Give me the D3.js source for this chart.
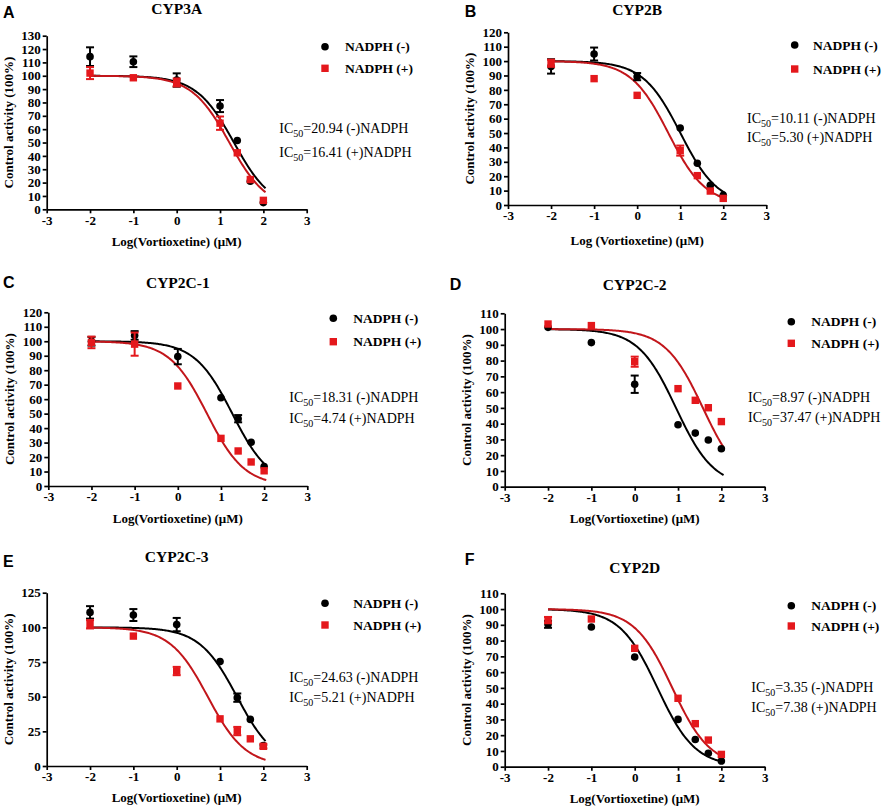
<!DOCTYPE html>
<html>
<head>
<meta charset="utf-8">
<script src="https://cdn.jsdelivr.net/npm/d3@7"></script>
<style>
  body { margin: 0; background: #fff; }
  svg { display: block; }
</style>
</head>
<body>
<svg id="chart" width="886" height="808"></svg>
<script>
// ---- data ----
const logConc = [-2, -1, 0, 1, 1.398, 1.699, 2];
const xTicks = [-3, -2, -1, 0, 1, 2, 3];
const panelLetters = ["A", "B", "C", "D", "E", "F"];
const panelTitles = ["CYP3A", "CYP2B", "CYP2C-1", "CYP2C-2", "CYP2C-3", "CYP2D"];
const xAxisLabels = [
  "Log(Vortioxetine) (\u03bcM)", "Log (Vortioxetine) (\u03bcM)", "Log(Vortioxetine) (\u03bcM)",
  "Log(Vortioxetine) (\u03bcM)", "Log(Vortioxetine) (\u03bcM)", "Log(Vortioxetine) (\u03bcM)"
];
const seriesNames = ["NADPH (-)", "NADPH (+)"];

const yTicksA = [0, 10, 20, 30, 40, 50, 60, 70, 80, 90, 100, 110, 120, 130];
const yTicksB = [0, 10, 20, 30, 40, 50, 60, 70, 80, 90, 100, 110, 120];
const yTicksC = [0, 10, 20, 30, 40, 50, 60, 70, 80, 90, 100, 110, 120];
const yTicksD = [0, 10, 20, 30, 40, 50, 60, 70, 80, 90, 100, 110];
const yTicksE = [0, 25, 50, 75, 100, 125];
const yTicksF = [0, 10, 20, 30, 40, 50, 60, 70, 80, 90, 100, 110];

// IC50 (uM) per panel
const ic50Minus = [20.94, 10.11, 18.31, 8.97, 24.63, 3.35];
const ic50Plus = [16.41, 5.30, 4.74, 37.47, 5.21, 7.38];

// activity (%) and error, NADPH (-) and NADPH (+)
const cyp3aMinus = [114.3, 110.5, 96.8, 77.3, 51.5, 21.0, 5.0];
const cyp3aMinusErr = [7, 4, 5, 4.5, 1, 1, 0.5];
const cyp3aPlus = [102.0, 98.5, 95.0, 64.5, 42.3, 22.3, 6.7];
const cyp3aPlusErr = [4.5, 1, 3, 5, 1, 1, 0.5];

const cyp2bMinus = [96.3, 104.9, 89.2, 53.5, 29.0, 13.7, 6.7];
const cyp2bMinusErr = [5, 4.5, 2.5, 1, 1, 1, 0.5];
const cyp2bPlus = [98.5, 87.8, 76.2, 37.8, 20.4, 9.7, 4.6];
const cyp2bPlusErr = [2.5, 0.5, 0.5, 3.5, 1, 1, 0.5];

const cyp2c1Minus = [100.0, 104.0, 89.4, 61.0, 46.5, 30.2, 13.5];
const cyp2c1MinusErr = [3, 3, 5.3, 1, 2.5, 1, 1];
const cyp2c1Plus = [99.2, 98.0, 69.1, 32.9, 24.2, 16.6, 10.5];
const cyp2c1PlusErr = [4, 8, 0.5, 1, 1, 1, 1];

const cyp2c2Minus = [101.1, 91.4, 65.0, 39.3, 34.0, 29.6, 24.1];
const cyp2c2MinusErr = [0.5, 0.5, 5.5, 0.5, 0.5, 0.5, 0.5];
const cyp2c2Plus = [103.2, 102.2, 79.3, 62.2, 54.8, 50.1, 41.3];
const cyp2c2PlusErr = [1, 1, 3.2, 0.5, 1, 1, 0.5];

const cyp2c3Minus = [110.8, 108.9, 102.0, 75.3, 49.3, 33.6, 14.7];
const cyp2c3MinusErr = [4.5, 4.3, 4.8, 1, 3, 1, 1];
const cyp2c3Plus = [102.2, 93.7, 68.5, 34.0, 25.2, 19.6, 14.2];
const cyp2c3PlusErr = [3, 1, 3, 1, 3, 1, 1.5];

const cyp2dMinus = [90.3, 88.6, 69.6, 30.0, 17.3, 8.5, 3.6];
const cyp2dMinusErr = [2.2, 0.5, 0.5, 0.5, 0.5, 0.5, 0.5];
const cyp2dPlus = [93.0, 93.7, 75.1, 43.4, 27.3, 16.9, 7.8];
const cyp2dPlusErr = [2, 0.5, 0.5, 0.5, 0.5, 0.5, 0.5];

const yTickSets = [yTicksA, yTicksB, yTicksC, yTicksD, yTicksE, yTicksF];
const minusVals = [cyp3aMinus, cyp2bMinus, cyp2c1Minus, cyp2c2Minus, cyp2c3Minus, cyp2dMinus];
const minusErrs = [cyp3aMinusErr, cyp2bMinusErr, cyp2c1MinusErr, cyp2c2MinusErr, cyp2c3MinusErr, cyp2dMinusErr];
const plusVals = [cyp3aPlus, cyp2bPlus, cyp2c1Plus, cyp2c2Plus, cyp2c3Plus, cyp2dPlus];
const plusErrs = [cyp3aPlusErr, cyp2bPlusErr, cyp2c1PlusErr, cyp2c2PlusErr, cyp2c3PlusErr, cyp2dPlusErr];

// ---- layout (pixel boxes of each panel) ----
const layout = [
  { x0: 46.7, x1: 306.7, y0: 35.7, y1: 209.3, tb: 13.5, lx: 3, lb: 18.3,
    leg: [325, 46.7, 68.3, 345], ic: [279.3, 132.7, 156.7], xlb: 246 },
  { x0: 508, x1: 766.3, y0: 32.3, y1: 205, tb: 15, lx: 464.7, lb: 16.7,
    leg: [794.7, 45, 69, 813], ic: [747, 122.7, 141.7], xlb: 245 },
  { x0: 48.3, x1: 307.3, y0: 312.3, y1: 486, tb: 288, lx: 3, lb: 288.3,
    leg: [333.3, 318.3, 341.7, 353.3], ic: [289.3, 401.7, 422.7], xlb: 523 },
  { x0: 504.7, x1: 764.7, y0: 313.3, y1: 486.7, tb: 290, lx: 449.7, lb: 290,
    leg: [791.3, 321.7, 343.3, 811.3], ic: [748, 401.7, 421.7], xlb: 523 },
  { x0: 46.7, x1: 306.7, y0: 592.7, y1: 766, tb: 562, lx: 3, lb: 566.7,
    leg: [325, 603.3, 625, 353.3], ic: [289.3, 681.7, 701.7], xlb: 802 },
  { x0: 504.7, x1: 764.7, y0: 593.3, y1: 766.7, tb: 573, lx: 464.7, lb: 565,
    leg: [791.3, 605.7, 626, 811.3], ic: [751.3, 691.7, 711.7], xlb: 803 }
];

const SERIF = '"Liberation Serif", "Times New Roman", serif';
const SANS = '"Liberation Sans", Arial, sans-serif';
const RED = "#e4181c";
const RED_LINE = "#c2161b";

const svg = d3.select("#chart");

// sigmoidal inhibition fit (top 100, bottom 0, Hill slope -1)
const hill = (lx, ic) => 100 / (1 + Math.pow(10, lx - Math.log10(ic)));
const fitX = d3.range(-2, 2.051, 0.025);

panelTitles.forEach((title, i) => {
  const L = layout[i];
  const yT = yTickSets[i];
  const x = d3.scaleLinear().domain([-3, 3]).range([L.x0, L.x1]);
  const y = d3.scaleLinear().domain([0, d3.max(yT)]).range([L.y1, L.y0]);
  const g = svg.append("g");

  // axes
  const xAx = g.append("g")
    .attr("transform", `translate(0,${L.y1})`)
    .call(d3.axisBottom(x).tickValues(xTicks).tickFormat(d => String(d))
      .tickSize(4).tickSizeOuter(0).tickPadding(2));
  const yAx = g.append("g")
    .attr("transform", `translate(${L.x0},0)`)
    .call(d3.axisLeft(y).tickValues(yT).tickFormat(d => String(d))
      .tickSize(4).tickSizeOuter(0).tickPadding(2));
  [xAx, yAx].forEach(ax => {
    ax.selectAll("path, line").attr("stroke", "#000").attr("stroke-width", 1.7);
    ax.selectAll("text")
      .attr("fill", "#000")
      .style("font-family", SERIF)
      .style("font-weight", "bold")
      .style("font-size", "13px");
  });

  // fitted curves
  const line = d3.line().x(d => x(d[0])).y(d => y(d[1]));
  const curves = [[ic50Minus[i], "#000"], [ic50Plus[i], RED_LINE]];
  curves.forEach(([ic, col]) => {
    g.append("path")
      .datum(fitX.map(v => [v, hill(v, ic)]))
      .attr("d", line)
      .attr("fill", "none")
      .attr("stroke", col)
      .attr("stroke-width", 2);
  });

  // points with error bars
  const groups = [
    { vals: minusVals[i], errs: minusErrs[i], col: "#000", shape: "circle" },
    { vals: plusVals[i], errs: plusErrs[i], col: RED, shape: "square" }
  ];
  groups.forEach(s => {
    const pts = logConc.map((c, k) => ({ c, v: s.vals[k], e: s.errs[k] }));
    const eb = g.append("g").attr("stroke", s.col).attr("stroke-width", 2);
    pts.filter(d => d.e >= 1.5).forEach(d => {
      eb.append("line").attr("x1", x(d.c)).attr("x2", x(d.c))
        .attr("y1", y(d.v - d.e)).attr("y2", y(d.v + d.e));
      [d.v - d.e, d.v + d.e].forEach(v => {
        eb.append("line").attr("x1", x(d.c) - 4).attr("x2", x(d.c) + 4)
          .attr("y1", y(v)).attr("y2", y(v));
      });
    });
    if (s.shape === "circle") {
      g.selectAll(null).data(pts).join("circle")
        .attr("cx", d => x(d.c)).attr("cy", d => y(d.v))
        .attr("r", 3.8).attr("fill", s.col);
    } else {
      g.selectAll(null).data(pts).join("rect")
        .attr("x", d => x(d.c) - 3.7).attr("y", d => y(d.v) - 3.7)
        .attr("width", 7.4).attr("height", 7.4).attr("fill", s.col);
    }
  });

  // titles and axis labels
  g.append("text")
    .attr("x", (L.x0 + L.x1) / 2).attr("y", L.tb)
    .attr("text-anchor", "middle")
    .style("font-family", SERIF).style("font-weight", "bold").style("font-size", "15.5px")
    .text(title);
  g.append("text")
    .attr("x", L.lx).attr("y", L.lb)
    .style("font-family", SANS).style("font-weight", "bold").style("font-size", "16px")
    .text(panelLetters[i]);
  g.append("text")
    .attr("x", (L.x0 + L.x1) / 2).attr("y", L.xlb)
    .attr("text-anchor", "middle")
    .style("font-family", SERIF).style("font-weight", "bold").style("font-size", "13px")
    .text(xAxisLabels[i]);
  g.append("text")
    .attr("transform", `translate(${L.x0 - 34},${(L.y0 + L.y1) / 2}) rotate(-90)`)
    .attr("text-anchor", "middle")
    .style("font-family", SERIF).style("font-weight", "bold").style("font-size", "13px")
    .text("Control activity (100%)");

  // legend
  const [cx, cy1, cy2, tx] = L.leg;
  g.append("circle").attr("cx", cx).attr("cy", cy1).attr("r", 3.8).attr("fill", "#000");
  g.append("rect").attr("x", cx - 3.7).attr("y", cy2 - 3.7)
    .attr("width", 7.4).attr("height", 7.4).attr("fill", RED);
  [[cy1, seriesNames[0]], [cy2, seriesNames[1]]].forEach(([cy, name]) => {
    g.append("text").attr("x", tx).attr("y", cy + 4.5)
      .style("font-family", SERIF).style("font-weight", "bold").style("font-size", "13.5px")
      .text(name);
  });

  // IC50 annotation
  const [ix, b1, b2] = L.ic;
  [[b1, ic50Minus[i], "(-)NADPH"], [b2, ic50Plus[i], "(+)NADPH"]].forEach(([b, v, tag]) => {
    const t = g.append("text").attr("x", ix).attr("y", b)
      .style("font-family", SERIF).style("font-size", "14px");
    t.append("tspan").text("IC");
    t.append("tspan").attr("dy", 4).style("font-size", "10px").text("50");
    t.append("tspan").attr("dy", -4).text(`=${v.toFixed(2)} ${tag}`);
  });
});
</script>
</body>
</html>
